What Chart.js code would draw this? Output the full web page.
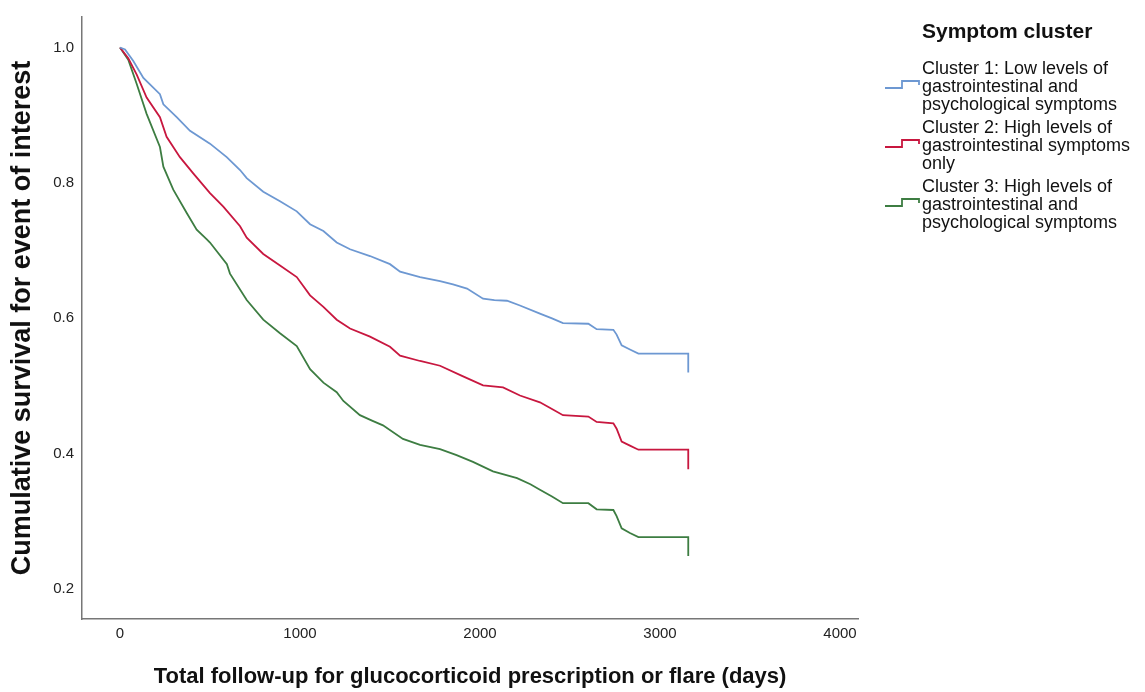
<!DOCTYPE html>
<html>
<head>
<meta charset="utf-8">
<title>Cumulative survival by symptom cluster</title>
<script src="https://cdn.jsdelivr.net/npm/chart.js@4/dist/chart.umd.min.js"></script>
<style>
  html, body { margin: 0; padding: 0; background: #fff; }
  #wrap { position: relative; width: 1145px; height: 692px; }
</style>
</head>
<body>
<div id="wrap"><canvas id="km"></canvas></div>
<script>
/* ── Kaplan–Meier curves by symptom cluster ───────────────────────────────── */

// ── Data ─────────────────────────────────────────────────────────────────────
const X_TICKS = [0, 1000, 2000, 3000, 4000];
const Y_TICKS = [0.2, 0.4, 0.6, 0.8, 1.0];

const LEGEND_TITLE = 'Symptom cluster';
const CLUSTER_LABELS = [
  ['Cluster 1: Low levels of', 'gastrointestinal and', 'psychological symptoms'],
  ['Cluster 2: High levels of', 'gastrointestinal symptoms', 'only'],
  ['Cluster 3: High levels of', 'gastrointestinal and', 'psychological symptoms'],
];
const CLUSTER_COLORS = ['#6d98d2', '#c8173f', '#3d7d42'];

// cluster 1 (blue)
const DAYS_1 = [0, 28, 74, 130, 222, 241, 315, 389, 500, 593, 667, 704, 796, 889, 982, 1056,
  1130, 1204, 1278, 1389, 1500, 1556, 1667, 1778, 1850, 1928, 2017, 2080, 2150, 2222, 2333,
  2400, 2461, 2602, 2648, 2741, 2759, 2787, 2833, 2880, 3157, 3157];
const SURV_1 = [1.000, 0.997, 0.980, 0.955, 0.931, 0.916, 0.897, 0.877, 0.858, 0.838, 0.819,
  0.807, 0.787, 0.773, 0.758, 0.739, 0.729, 0.712, 0.702, 0.692, 0.680, 0.669, 0.661, 0.655,
  0.650, 0.644, 0.629, 0.627, 0.626, 0.619, 0.607, 0.600, 0.593, 0.592, 0.584, 0.583, 0.576,
  0.560, 0.554, 0.548, 0.548, 0.520];

// cluster 2 (red)
const DAYS_2 = [0, 46, 93, 148, 222, 259, 333, 407, 500, 574, 667, 704, 796, 889, 982, 1056,
  1130, 1204, 1278, 1389, 1500, 1556, 1667, 1778, 1900, 2017, 2128, 2222, 2333, 2400, 2461,
  2602, 2648, 2741, 2759, 2787, 2833, 2880, 3157, 3157];
const SURV_2 = [1.000, 0.984, 0.960, 0.926, 0.897, 0.868, 0.838, 0.814, 0.785, 0.765, 0.736,
  0.719, 0.695, 0.678, 0.661, 0.634, 0.617, 0.598, 0.585, 0.573, 0.558, 0.545, 0.537, 0.530,
  0.515, 0.501, 0.498, 0.486, 0.476, 0.466, 0.457, 0.455, 0.447, 0.445, 0.437, 0.418, 0.412,
  0.406, 0.406, 0.377];

// cluster 3 (green)
const DAYS_3 = [0, 46, 93, 148, 222, 241, 296, 370, 426, 481, 500, 594, 611, 704, 796, 889,
  982, 1056, 1130, 1204, 1241, 1333, 1400, 1461, 1572, 1667, 1778, 1870, 1961, 2072, 2206,
  2280, 2333, 2400, 2461, 2602, 2648, 2741, 2759, 2787, 2833, 2880, 3157, 3157];
const SURV_3 = [1.000, 0.982, 0.946, 0.902, 0.853, 0.824, 0.790, 0.756, 0.731, 0.717, 0.712,
  0.680, 0.666, 0.627, 0.598, 0.578, 0.559, 0.525, 0.505, 0.491, 0.478, 0.457, 0.449, 0.442,
  0.422, 0.413, 0.407, 0.398, 0.388, 0.374, 0.364, 0.355, 0.347, 0.337, 0.327, 0.327, 0.318,
  0.317, 0.308, 0.290, 0.283, 0.277, 0.277, 0.249];

const FONT = "'Liberation Sans', Arial, sans-serif";

// ── Helpers ──────────────────────────────────────────────────────────────────
const toPoints = (xs, ys) => xs.map((x, i) => ({ x, y: ys[i] }));

function makeSeries(xs, ys, i) {
  return {
    label          : CLUSTER_LABELS[i].join(' '),
    data           : toPoints(xs, ys),
    borderColor    : CLUSTER_COLORS[i],
    borderWidth    : 1.8,
    pointRadius    : 0,
    fill           : false,
    tension        : 0,
  };
}

// ── Legend drawn on the right ────────────────────────────────────────────────
const stepLegend = {
  id: 'stepLegend',
  afterDraw(chart) {
    const ctx = chart.ctx;
    ctx.save();
    ctx.fillStyle = '#111';
    ctx.textBaseline = 'middle';
    ctx.textAlign = 'left';
    ctx.font = `bold 21px ${FONT}`;
    ctx.fillText(LEGEND_TITLE, 922, 32);

    ctx.font = `18px ${FONT}`;
    CLUSTER_LABELS.forEach((lines, g) => {
      const top = 69 + g * 59;
      lines.forEach((txt, k) => ctx.fillText(txt, 922, top + k * 18));

      // little step icon
      const base = 88 + g * 59;
      ctx.strokeStyle = CLUSTER_COLORS[g];
      ctx.lineWidth = 1.8;
      ctx.beginPath();
      ctx.moveTo(885, base);
      ctx.lineTo(902, base);
      ctx.lineTo(902, base - 7);
      ctx.lineTo(919, base - 7);
      ctx.lineTo(919, base - 3);
      ctx.stroke();
    });
    ctx.restore();
  },
};

// ── Chart ────────────────────────────────────────────────────────────────────
new Chart(document.getElementById('km'), {
  type: 'line',
  data: {
    datasets: [
      makeSeries(DAYS_1, SURV_1, 0),
      makeSeries(DAYS_2, SURV_2, 1),
      makeSeries(DAYS_3, SURV_3, 2),
    ],
  },
  options: {
    responsive: true, maintainAspectRatio: false,
    animation : false,
    layout    : { padding: { top: 10, right: 287, left: 0, bottom: 0 } },
    plugins   : { legend: { display: false }, tooltip: { enabled: false } },
    scales    : {
      x: {
        type : 'linear',
        min  : -211,
        max  : 4100,
        afterBuildTicks: s => { s.ticks = X_TICKS.map(v => ({ value: v })); },
        afterFit: s => { s.height = 73; },
        grid  : { display: false, drawTicks: false },
        border: { display: true, color: '#777', width: 1.5 },
        ticks : {
          padding : 6,
          color   : '#222',
          font    : { family: FONT, size: 15 },
          callback: v => String(v),
        },
        title: {
          display: true,
          text   : 'Total follow-up for glucocorticoid prescription or flare (days)',
          color  : '#111',
          font   : { family: FONT, size: 22, weight: 'bold' },
          padding: { top: 0, bottom: 2 },
        },
      },
      y: {
        min  : 0.156,
        max  : 1.045,
        afterBuildTicks: s => { s.ticks = Y_TICKS.map(v => ({ value: v })); },
        afterFit: s => { s.width = 82; },
        grid  : { display: false, drawTicks: false },
        border: { display: true, color: '#777', width: 1.5 },
        ticks : {
          padding : 8,
          color   : '#222',
          font    : { family: FONT, size: 15 },
          callback: v => v.toFixed(1),
        },
        title: {
          display: true,
          text   : 'Cumulative survival for event of interest',
          color  : '#111',
          font   : { family: FONT, size: 27, weight: 'bold' },
          padding: { top: 6, bottom: 0 },
        },
      },
    },
  },
  plugins: [stepLegend],
});
</script>
</body>
</html>
